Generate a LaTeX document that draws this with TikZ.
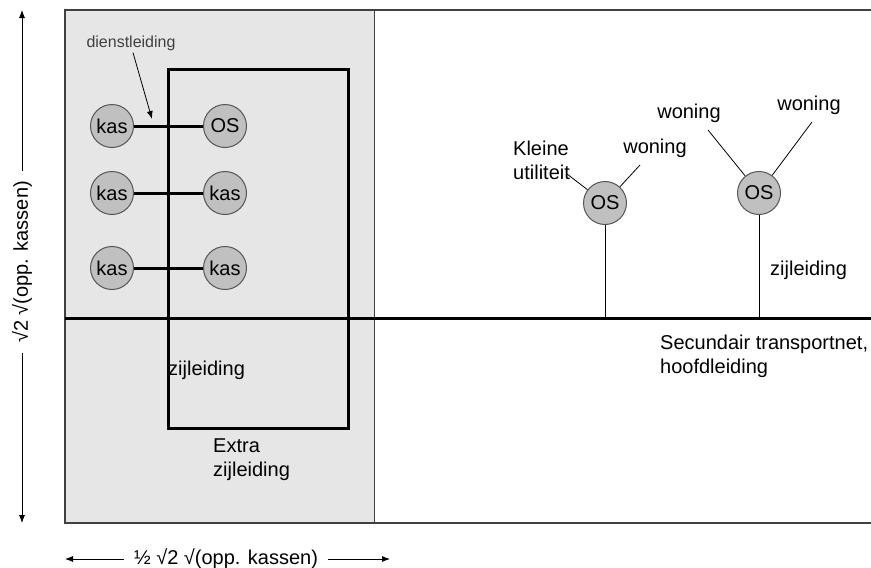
\documentclass[tikz,border=0pt]{standalone}
\usepackage{fontspec}
\setmainfont{Liberation Sans}
\usetikzlibrary{arrows.meta}
\definecolor{bggrey}{HTML}{E6E6E6}
\definecolor{circgrey}{HTML}{C0C0C0}
\definecolor{framegrey}{HTML}{404040}
\definecolor{ringgrey}{HTML}{555555}
\begin{document}
\begin{tikzpicture}[x=1pt,y=-1pt,
  txt/.style={font=\fontsize{20}{24}\selectfont, inner sep=0pt, align=left},
  small/.style={font=\fontsize{16}{19}\selectfont, inner sep=0pt, text=black!75},
  unit/.style={circle, draw=ringgrey, line width=1pt, fill=circgrey, minimum size=43pt, inner sep=0pt, font=\fontsize{20}{22}\selectfont},
  pipe/.style={line width=3pt},
  thin/.style={line width=0.8pt},
  arr/.style={-{Latex[length=8pt,width=6pt]}, line width=0.8pt}
]
\useasboundingbox (0,0) rectangle (871,568);
% background
\fill[bggrey] (65,10) rectangle (374,523);
\draw[framegrey, line width=1.2pt] (880,10) -- (65,10) -- (65,523) -- (880,523);
\draw[framegrey, line width=0.8pt] (374,10) -- (374,523);
% main line and inner loop
\coordinate (hL) at (65,318);
\coordinate (hR) at (875,318);
\draw[pipe] (hL) -- (hR);
\draw[pipe] (168,69) rectangle (348,428);
% greenhouse units
\node[unit] (k1) at (112,126) {kas};
\node[unit] (os1) at (225,126) {OS};
\node[unit] (k2) at (112,193) {kas};
\node[unit] (k3) at (225,193) {kas};
\node[unit] (k4) at (112,268) {kas};
\node[unit] (k5) at (225,268) {kas};
\draw[pipe] (k1) -- (os1);
\draw[pipe] (k2) -- (k3);
\draw[pipe] (k4) -- (k5);
% dienstleiding
\node[small] (dl) at (131,43) {dienstleiding};
\coordinate (dlt) at (152,119);
\draw[arr] (dl.south) ++(2,2) -- (dlt);
% left labels
\node[txt, anchor=west] (zl1) at (168,370) {zijleiding};
\node[txt, anchor=west] (ez) at (213,459.5) {Extra\\zijleiding};
% right side OS
\node[unit] (osa) at (605,203) {OS};
\node[unit] (osb) at (759,193) {OS};
\coordinate (ja) at (605,318);
\coordinate (jb) at (759,318);
\draw[thin] (osa) -- (ja);
\draw[thin] (osb) -- (jb);
\node[txt, anchor=west] (ku) at (513,160) {Kleine\\utiliteit};
\node[txt] (w1) at (655,148) {woning};
\node[txt] (w2) at (689,113) {woning};
\node[txt] (w3) at (809,105) {woning};
\coordinate (kuL) at (567,174);
\coordinate (w1L) at (640,165);
\coordinate (w2L) at (708,130);
\coordinate (w3L) at (812,122);
\draw[thin] (kuL) -- (osa);
\draw[thin] (w1L) -- (osa);
\draw[thin] (w2L) -- (osb);
\draw[thin] (w3L) -- (osb);
\node[txt, anchor=west] (zl2) at (770,270) {zijleiding};
\node[txt, anchor=west] (sec) at (660,356.5) {Secundair transportnet,\\hoofdleiding};
% dimension arrows
\node[txt, rotate=90, inner xsep=10pt] (vd) at (22,262) {√2 √(opp. kassen)};
\coordinate (vt) at (22,10);
\coordinate (vb) at (22,523);
\draw[arr] (vd.east) -- (vt);
\draw[arr] (vd.west) -- (vb);
\node[txt, inner xsep=10pt] (hd) at (226,559) {½ √2 √(opp. kassen)};
\coordinate (hl) at (65,559);
\coordinate (hr) at (390,559);
\draw[arr] (hd.west) -- (hl);
\draw[arr] (hd.east) -- (hr);
\end{tikzpicture}
\end{document}
